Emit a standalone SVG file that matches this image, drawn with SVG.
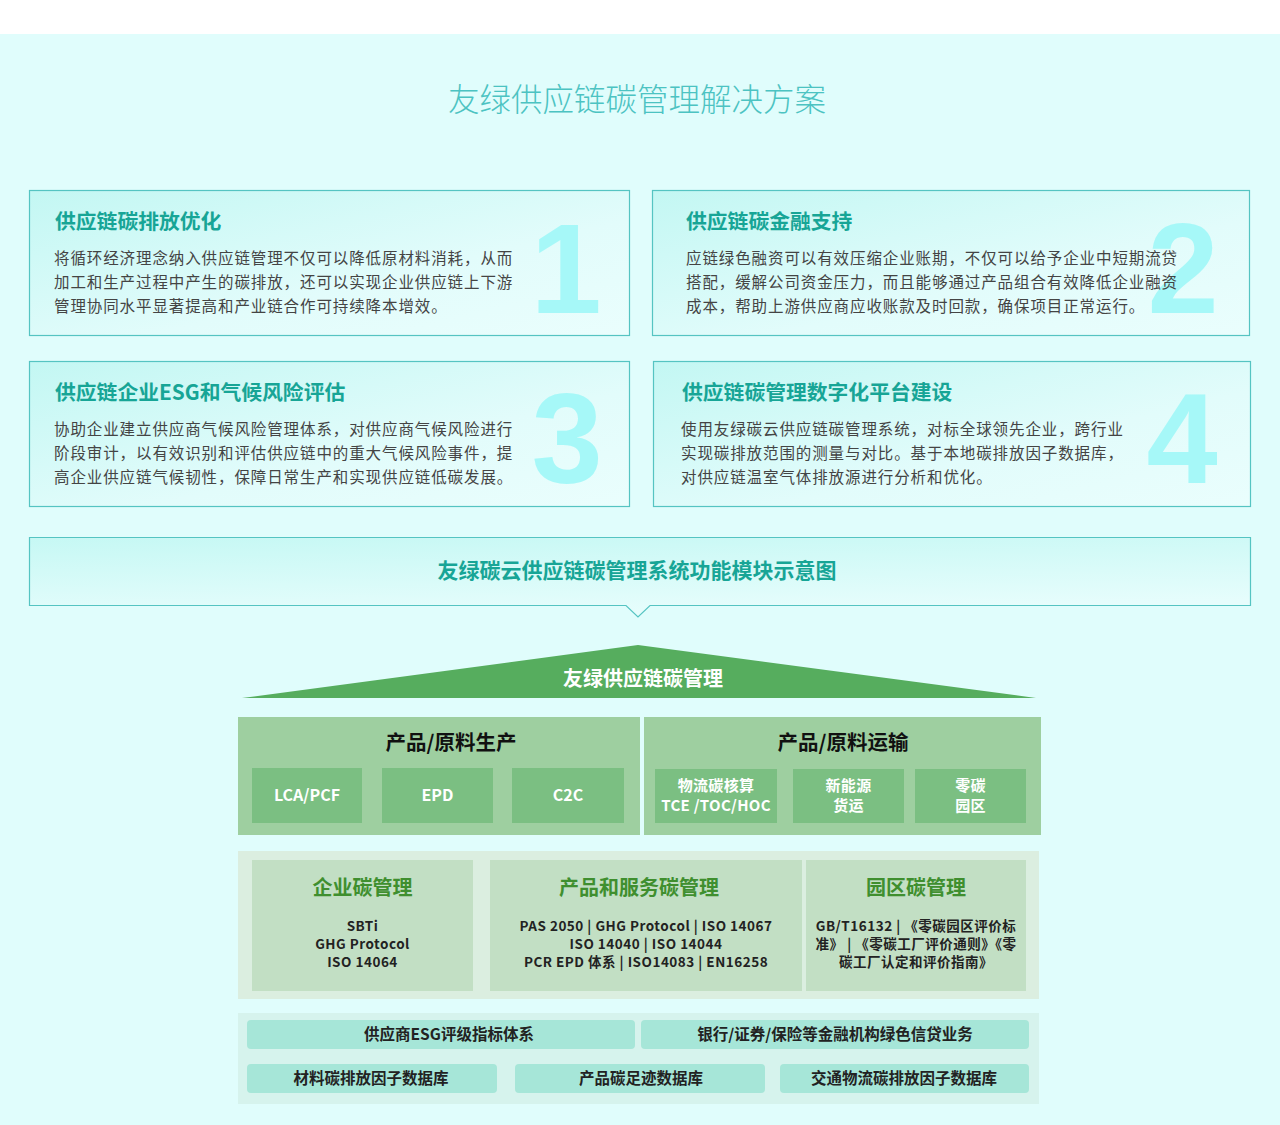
<svg xmlns="http://www.w3.org/2000/svg" width="1280" height="1125" viewBox="0 0 1280 1125">
<defs>
<linearGradient id="cardg" x1="0" y1="0" x2="1" y2="1">
<stop offset="0" stop-color="#c3f7f3"/>
<stop offset="0.6" stop-color="#e2fcfb"/>
<stop offset="1" stop-color="#eafefd"/>
</linearGradient>
<linearGradient id="bang" x1="0" y1="0" x2="0.3" y2="1">
<stop offset="0" stop-color="#c6f8f4"/>
<stop offset="1" stop-color="#e6fdfc"/>
</linearGradient>
</defs>
<style>
text{font-family:"Noto Sans CJK SC","Noto Sans",sans-serif}
.card{fill:url(#cardg);stroke:#55c4c2;stroke-width:1.2}
.ct{font-size:20.8px;font-weight:bold;fill:#17a596}
.cb{font-size:15.5px;fill:#444;letter-spacing:0.9px}
.num{font-family:"Liberation Sans",Arial,sans-serif;font-size:128px;font-weight:bold;fill:#a6f8f8;text-anchor:middle}
.pbox{fill:#9ecfa0}
.sbox{fill:#7bbf82}
.ph{font-size:20.5px;font-weight:bold;fill:#111;text-anchor:middle}
.st{font-size:16px;font-weight:bold;fill:#fff;text-anchor:middle}
.st2{font-size:15px;font-weight:bold;fill:#fff;text-anchor:middle;letter-spacing:0.3px}
.mbox{fill:#c2dfc4}
.mh{font-size:20px;font-weight:bold;fill:#3f8f2f;text-anchor:middle}
.mt{font-size:13.5px;font-weight:bold;fill:#222;text-anchor:middle;letter-spacing:0.5px}
.pill{fill:#a6e6d8}
.pt{font-size:15.5px;font-weight:bold;fill:#222;text-anchor:middle}
</style>
<rect x="0" y="0" width="1280" height="1125" fill="#ffffff"/>
<rect x="0" y="34" width="1280" height="1091" fill="#e0fdfc"/>
<text x="637" y="111" text-anchor="middle" font-size="31.5" font-weight="300" fill="#4cc3c2">友绿供应链碳管理解决方案</text>

<g id="card1">
<rect class="card" x="29.5" y="190.5" width="600" height="145"/>
<text class="num" x="566" y="313">1</text>
<text class="ct" x="55" y="229">供应链碳排放优化</text>
<text class="cb" x="54" y="264">将循环经济理念纳入供应链管理不仅可以降低原材料消耗，从而</text>
<text class="cb" x="54" y="288">加工和生产过程中产生的碳排放，还可以实现企业供应链上下游</text>
<text class="cb" x="54" y="312">管理协同水平显著提高和产业链合作可持续降本增效。</text>
</g>
<g id="card2">
<rect class="card" x="652.5" y="190.5" width="597" height="145"/>
<text class="num" x="1183" y="313">2</text>
<text class="ct" x="686" y="229">供应链碳金融支持</text>
<text class="cb" x="686" y="264">应链绿色融资可以有效压缩企业账期，不仅可以给予企业中短期流贷</text>
<text class="cb" x="686" y="288">搭配，缓解公司资金压力，而且能够通过产品组合有效降低企业融资</text>
<text class="cb" x="686" y="312">成本，帮助上游供应商应收账款及时回款，确保项目正常运行。</text>
</g>
<g id="card3">
<rect class="card" x="29.5" y="361.5" width="600" height="145"/>
<text class="num" x="567" y="483">3</text>
<text class="ct" x="55" y="400">供应链企业ESG和气候风险评估</text>
<text class="cb" x="54" y="435">协助企业建立供应商气候风险管理体系，对供应商气候风险进行</text>
<text class="cb" x="54" y="459">阶段审计，以有效识别和评估供应链中的重大气候风险事件，提</text>
<text class="cb" x="54" y="483">高企业供应链气候韧性，保障日常生产和实现供应链低碳发展。</text>
</g>
<g id="card4">
<rect class="card" x="653.5" y="361.5" width="597" height="145"/>
<text class="num" x="1182" y="483">4</text>
<text class="ct" x="682" y="400">供应链碳管理数字化平台建设</text>
<text class="cb" x="681" y="435">使用友绿碳云供应链碳管理系统，对标全球领先企业，跨行业</text>
<text class="cb" x="681" y="459">实现碳排放范围的测量与对比。基于本地碳排放因子数据库，</text>
<text class="cb" x="681" y="483">对供应链温室气体排放源进行分析和优化。</text>
</g>

<g id="banner">
<path d="M29.5,537.5 H1250.5 V605.5 H650 L638,617 L626,605.5 H29.5 Z" fill="url(#bang)" stroke="#55c4c2" stroke-width="1.2"/>
<text x="637" y="578" text-anchor="middle" font-size="21" font-weight="bold" fill="#17a596">友绿碳云供应链碳管理系统功能模块示意图</text>
</g>

<g id="roof">
<polygon points="638,645 1036,698 242,698" fill="#56ad5e"/>
<text x="643" y="686" text-anchor="middle" font-size="20" font-weight="bold" fill="#ffffff">友绿供应链碳管理</text>
</g>

<g id="production">
<rect class="pbox" x="238" y="717" width="402" height="118"/>
<text class="ph" x="451" y="750">产品/原料生产</text>
<rect class="sbox" x="252" y="768" width="110" height="55"/>
<text class="st" x="307" y="801">LCA/PCF</text>
<rect class="sbox" x="382" y="768" width="111" height="55"/>
<text class="st" x="437.5" y="801">EPD</text>
<rect class="sbox" x="512" y="768" width="112" height="55"/>
<text class="st" x="568" y="801">C2C</text>
</g>
<g id="transport">
<rect class="pbox" x="644" y="717" width="397" height="118"/>
<text class="ph" x="843" y="750">产品/原料运输</text>
<rect class="sbox" x="655" y="769" width="122" height="54"/>
<text class="st2" x="716" y="791">物流碳核算</text>
<text class="st2" x="716" y="811">TCE /TOC/HOC</text>
<rect class="sbox" x="793" y="769" width="111" height="54"/>
<text class="st2" x="848.5" y="791">新能源</text>
<text class="st2" x="848.5" y="811">货运</text>
<rect class="sbox" x="915" y="769" width="111" height="54"/>
<text class="st2" x="970.5" y="791">零碳</text>
<text class="st2" x="970.5" y="811">园区</text>
</g>

<rect x="238" y="851" width="801" height="148" fill="#dbeee0"/>
<g id="enterprise">
<rect class="mbox" x="252" y="860" width="221" height="131"/>
<text class="mh" x="362.5" y="895">企业碳管理</text>
<text class="mt" x="362.5" y="931">SBTi</text>
<text class="mt" x="362.5" y="949">GHG Protocol</text>
<text class="mt" x="362.5" y="967">ISO 14064</text>
</g>
<g id="product-service">
<rect class="mbox" x="490" y="860" width="312" height="131"/>
<text class="mh" x="639" y="895">产品和服务碳管理</text>
<text class="mt" x="646" y="931">PAS 2050 | GHG Protocol | ISO 14067</text>
<text class="mt" x="646" y="949">ISO 14040 | ISO 14044</text>
<text class="mt" x="646" y="967">PCR EPD 体系 | ISO14083 | EN16258</text>
</g>
<g id="park">
<rect class="mbox" x="806" y="860" width="220" height="131"/>
<text class="mh" x="916" y="895">园区碳管理</text>
<text class="mt" x="916" y="931">GB/T16132 | 《零碳园区评价标</text>
<text class="mt" x="916" y="949">准》 | 《零碳工厂评价通则》《零</text>
<text class="mt" x="916" y="967">碳工厂认定和评价指南》</text>
</g>

<rect x="238" y="1013" width="801" height="91" fill="#d6f3ed"/>
<g id="esg">
<rect class="pill" x="247" y="1020" width="388" height="29" rx="4"/>
<text class="pt" x="449" y="1040">供应商ESG评级指标体系</text>
</g>
<g id="finance">
<rect class="pill" x="641" y="1020" width="388" height="29" rx="4"/>
<text class="pt" x="835" y="1040">银行/证券/保险等金融机构绿色信贷业务</text>
</g>
<g id="material-db">
<rect class="pill" x="247" y="1064" width="250" height="29" rx="4"/>
<text class="pt" x="371" y="1084">材料碳排放因子数据库</text>
</g>
<g id="footprint-db">
<rect class="pill" x="515" y="1064" width="250" height="29" rx="4"/>
<text class="pt" x="641" y="1084">产品碳足迹数据库</text>
</g>
<g id="transport-db">
<rect class="pill" x="780" y="1064" width="249" height="29" rx="4"/>
<text class="pt" x="904" y="1084">交通物流碳排放因子数据库</text>
</g>
<g id="connectors"></g>
</svg>
